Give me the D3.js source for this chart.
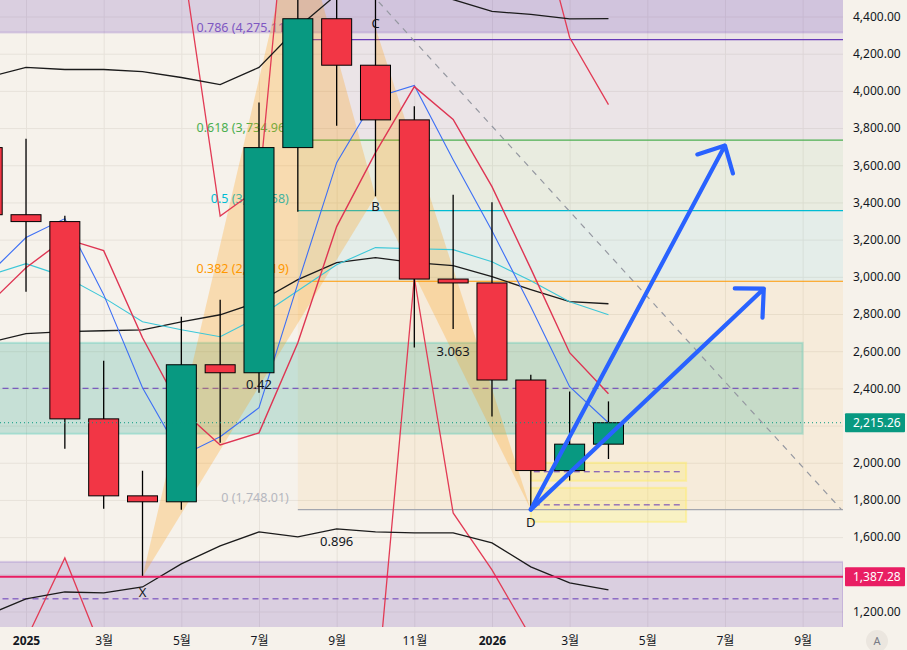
<!DOCTYPE html>
<html>
<head>
<meta charset="utf-8">
<script src="https://cdn.jsdelivr.net/npm/d3@7"></script>
<style>
  body { margin: 0; background: #f6f2eb; }
  svg text { font-family: "Noto Sans", "Noto Sans CJK KR", sans-serif; }
</style>
</head>
<body>
<script>
// 월봉 (2024-12 ~ 2026-04)
const months = ["2024-12", "2025-01", "2025-02", "2025-03", "2025-04", "2025-05", "2025-06", "2025-07",
  "2025-08", "2025-09", "2025-10", "2025-11", "2025-12", "2026-01", "2026-02", "2026-03", "2026-04"];
const opens = [3695, 3334, 3297, 2236, 1822, 1790, 2527, 2484, 3695, 4388, 4138, 3844, 2988, 2967, 2445, 1958, 2100];
const highs = [4107, 3743, 3329, 2549, 1957, 2785, 2877, 3937, 4956, 4770, 4755, 3917, 3442, 3401, 2473, 2383, 2330];
const lows = [3100, 2920, 2075, 1752, 1385, 1747, 2107, 2376, 3350, 3813, 3433, 2620, 2719, 2249, 1748.01, 1904, 2020];
const closes = [3334, 3297, 2236, 1822, 1790, 2527, 2484, 3695, 4388, 4138, 3844, 2988, 2967, 2445, 1958, 2100, 2215.26];

// 지표
const bbUpper = [4072, 4126, 4115, 4115, 4104, 4072, 4034, 4126, 4341, 4518, 4556, 4545, 4491, 4427, 4411, 4387, 4389];
const bbBasis = [2645, 2694, 2705, 2710, 2715, 2758, 2796, 2866, 2985, 3076, 3103, 3076, 3060, 3001, 2931, 2866, 2855];
const bbLower = [1181, 1268, 1305, 1300, 1332, 1456, 1553, 1628, 1601, 1644, 1628, 1623, 1623, 1569, 1440, 1354, 1316];
const maBlue = [3006, 3211, 3313, 2904, 2403, 2037, 2140, 2296, 2963, 3614, 3964, 4029, 3630, 3248, 2839, 2409, 2215];
const maCyan = [3005, 3071, 3001, 2888, 2758, 2715, 2678, 2785, 2925, 3065, 3157, 3151, 3146, 3081, 2979, 2866, 2796];
const maRed = [2845, 3049, 3205, 3141, 2672, 2285, 2096, 2161, 2645, 3270, 3668, 4023, 3846, 3485, 3044, 2592, 2371];
const bandLow = [600, 1047, 1488, 966, 700, null, null, null, null, null, 692, 2995, 1730, 1424, 1063, null, null];
const bandHigh = [null, null, null, null, null, 4755, 3327, 3477, 5686, null, null, null, null, null, 5083, 4287, 3926];

// 축
const xTickMonths = ["2025-01", "2025-03", "2025-05", "2025-07", "2025-09", "2025-11",
  "2026-01", "2026-03", "2026-05", "2026-07", "2026-09"];
const xTickLabels = ["2025", "3월", "5월", "7월", "9월", "11월", "2026", "3월", "5월", "7월", "9월"];
const yTicks = [1200, 1600, 1800, 2000, 2400, 2600, 2800, 3000, 3200, 3400, 3600, 3800, 4000, 4200, 4400];

// 피보나치
const fibStart = "2025-08";
const fibLevels = [1, 0.786, 0.618, 0.5, 0.382, 0];
const fibPrices = [4963.15, 4275.11, 3734.96, 3355.58, 2976.19, 1748.01];
const fibColors = ["#673ab7", "#673ab7", "#4caf50", "#00bcd4", "#ff9800", "#a3a6af"];
const fibTextColors = ["#7e57c2", "#7e57c2", "#4caf50", "#00bcd4", "#ff9800", "#b5b7bf"];

// XABCD
const harmNames = ["X", "A", "B", "C", "D"];
const harmMonths = ["2025-04", "2025-08", "2025-10", "2025-10", "2026-02"];
const harmPrices = [1385, 4956, 3433, 4340, 1748.01];
const harmRatios = ["0.42", "0.896", "3.063"];

// 박스 / 수평선
const purpleTop = [4314, 4800];
const purpleBottom = [1069, 1467];
const tealZone = [2156, 2645];
const yellowZones = [[1903, 2000], [1682, 1865]];
const supportLine = 1387.28;
const lastPrice = 2215.26;
const projEnd = ["2026-10", 1748.01];
const arrowMonths = ["2026-07", "2026-08"];
const arrowPrices = [3706, 2936];

let mi = s => {
  let [yy, mm] = s.split("-").map(Number);
  return (yy - 2025) * 12 + (mm - 1);
};

const W = 907, H = 650, plotW = 843, plotH = 627;

let svg = d3.select("body").append("svg")
  .attr("width", W).attr("height", H);

svg.append("rect").attr("width", W).attr("height", H).attr("fill", "#f6f2eb");

let x = d3.scaleLinear().domain([-0.67, 21.04]).range([0, plotW]),
  y = d3.scaleLinear().domain([1200, 4400]).range([611.5, 16.5]);

svg.append("defs").append("clipPath").attr("id", "clip")
  .append("rect").attr("width", plotW).attr("height", plotH);

let plot = svg.append("g").attr("clip-path", "url(#clip)");

// 격자
plot.append("g")
  .call(d3.axisRight(y).tickValues(d3.range(1000, 4800, 200)).tickSize(plotW).tickFormat(""))
  .call(g => g.select(".domain").remove())
  .selectAll("line").attr("stroke", "#e7e2da");
plot.append("g")
  .call(d3.axisBottom(x).tickValues(xTickMonths.map(mi)).tickSize(plotH).tickFormat(""))
  .call(g => g.select(".domain").remove())
  .selectAll("line").attr("stroke", "#e7e2da");

// 박스
let drawZone = (x0, x1, lo, hi, fill, stroke, mid) => {
  plot.append("rect")
    .attr("x", x(x0)).attr("width", x(x1) - x(x0))
    .attr("y", y(hi)).attr("height", y(lo) - y(hi))
    .attr("fill", fill).attr("stroke", stroke).attr("stroke-width", 2);
  if (mid) {
    plot.append("line")
      .attr("x1", x(x0) + 3).attr("x2", x(x1) - 3)
      .attr("y1", y((lo + hi) / 2)).attr("y2", y((lo + hi) / 2))
      .attr("stroke", "#673ab7").attr("stroke-width", 1).attr("stroke-dasharray", "6,4");
  }
};

drawZone(-3, 24, purpleTop[0], purpleTop[1], "rgba(103,58,183,0.19)", "rgba(126,87,194,0.22)", false);
drawZone(-3, 21.04, purpleBottom[0], purpleBottom[1], "rgba(103,58,183,0.19)", "rgba(126,87,194,0.22)", true);

// 피보 채우기
for (let i = 0; i < fibLevels.length - 1; i++) {
  plot.append("rect")
    .attr("x", x(mi(fibStart))).attr("width", plotW - x(mi(fibStart)))
    .attr("y", y(fibPrices[i])).attr("height", y(fibPrices[i + 1]) - y(fibPrices[i]))
    .attr("fill", fibColors[i]).attr("fill-opacity", 0.07);
}

drawZone(-3, 20, tealZone[0], tealZone[1], "rgba(8,153,129,0.2)", "rgba(60,200,180,0.3)", true);
yellowZones.forEach(z => drawZone(13, 17, z[0], z[1], "rgba(255,235,59,0.22)", "rgba(255,238,100,0.45)", true));

// 피보 선 (화면 밖 레벨은 라벨 생략)
fibLevels.forEach((lvl, i) => {
  plot.append("line")
    .attr("x1", x(mi(fibStart))).attr("x2", plotW)
    .attr("y1", y(fibPrices[i])).attr("y2", y(fibPrices[i]))
    .attr("stroke", fibColors[i]).attr("stroke-width", 1.2);
  if (y(fibPrices[i]) < 20) return;
  plot.append("text")
    .attr("x", x(mi(fibStart)) - 9).attr("y", y(fibPrices[i]) - 8)
    .attr("text-anchor", "end").attr("font-size", 12.5)
    .attr("fill", fibTextColors[i])
    .text(lvl + " (" + d3.format(",.2f")(fibPrices[i]) + ")");
});

// XABCD 삼각형
let hp = harmNames.map((n, i) => [x(mi(harmMonths[i])), y(harmPrices[i])]);
[[0, 1, 2], [2, 3, 4]].forEach(t => {
  plot.append("path")
    .attr("d", "M" + t.map(k => hp[k].join(",")).join("L") + "Z")
    .attr("fill", "rgba(255,152,0,0.25)");
});

// A → 투영 점선
plot.append("line")
  .attr("x1", hp[1][0]).attr("y1", hp[1][1])
  .attr("x2", x(mi(projEnd[0]))).attr("y2", y(projEnd[1]))
  .attr("stroke", "#9598a1").attr("stroke-width", 1.2).attr("stroke-dasharray", "6,6");

// 지표 선
let line = d3.line()
  .defined(d => d[1] !== null)
  .x(d => x(mi(d[0])))
  .y(d => y(d[1]));
let drawSeries = (vals, color, w) => {
  plot.append("path")
    .attr("d", line(months.map((m, i) => [m, vals[i]])))
    .attr("fill", "none").attr("stroke", color).attr("stroke-width", w);
};
drawSeries(bandLow, "#e23b55", 1.3);
drawSeries(bandHigh, "#e23b55", 1.3);
drawSeries(bbUpper, "#1b1b1b", 1.3);
drawSeries(bbBasis, "#1b1b1b", 1.3);
drawSeries(bbLower, "#1b1b1b", 1.3);
drawSeries(maCyan, "#3cc7d8", 1.1);
drawSeries(maBlue, "#3d6ff5", 1.1);
drawSeries(maRed, "#de3553", 1.4);

// 캔들
let candles = plot.append("g");
months.forEach((m, i) => {
  let cx = x(mi(m)), up = closes[i] >= opens[i];
  candles.append("line")
    .attr("x1", cx).attr("x2", cx)
    .attr("y1", y(highs[i])).attr("y2", y(lows[i]))
    .attr("stroke", "#000").attr("stroke-width", 1.3);
  let top = y(Math.max(opens[i], closes[i])), bot = y(Math.min(opens[i], closes[i]));
  candles.append("rect")
    .attr("x", cx - 15).attr("width", 30)
    .attr("y", top).attr("height", Math.max(bot - top, 1))
    .attr("fill", up ? "#089981" : "#f23645")
    .attr("stroke", "#000").attr("stroke-width", 1);
});

// 지지선 / 현재가
plot.append("line")
  .attr("x1", 0).attr("x2", plotW)
  .attr("y1", y(supportLine)).attr("y2", y(supportLine))
  .attr("stroke", "#e91e63").attr("stroke-width", 2);
plot.append("line")
  .attr("x1", 0).attr("x2", plotW)
  .attr("y1", y(lastPrice)).attr("y2", y(lastPrice))
  .attr("stroke", "#089981").attr("stroke-width", 1).attr("stroke-dasharray", "1,3");

// 라벨 (A 는 화면 밖)
let labelOffset = { X: 15, B: 10, C: -4, D: 13 };
harmNames.forEach((n, i) => {
  if (!(n in labelOffset)) return;
  plot.append("text")
    .attr("x", hp[i][0]).attr("y", hp[i][1] + labelOffset[n])
    .attr("dy", "0.35em").attr("text-anchor", "middle")
    .attr("font-size", 13).attr("fill", "#131722")
    .text(n);
});
[[0, 2], [0, 4], [2, 4]].forEach((p, i) => {
  plot.append("text")
    .attr("x", (hp[p[0]][0] + hp[p[1]][0]) / 2)
    .attr("y", (hp[p[0]][1] + hp[p[1]][1]) / 2 - 2)
    .attr("dy", "0.35em").attr("text-anchor", "middle")
    .attr("font-size", 13).attr("fill", "#131722")
    .text(harmRatios[i]);
});

// 화살표
arrowMonths.forEach((m, i) => {
  let x1 = hp[4][0], y1 = hp[4][1],
    x2 = x(mi(m)), y2 = y(arrowPrices[i]),
    ang = Math.atan2(y1 - y2, x1 - x2),
    wing = 29, spread = 44 * Math.PI / 180;
  let p = "M" + x1 + "," + y1 + "L" + x2 + "," + y2 +
    "M" + (x2 + wing * Math.cos(ang + spread)) + "," + (y2 + wing * Math.sin(ang + spread)) +
    "L" + x2 + "," + y2 +
    "L" + (x2 + wing * Math.cos(ang - spread)) + "," + (y2 + wing * Math.sin(ang - spread));
  plot.append("path").attr("d", p)
    .attr("fill", "none").attr("stroke", "#2962ff").attr("stroke-width", 4.2)
    .attr("stroke-linecap", "round").attr("stroke-linejoin", "round");
});

// Y 축
svg.append("g")
  .attr("transform", "translate(" + plotW + ",0)")
  .call(d3.axisRight(y).tickValues(yTicks).tickSize(0).tickPadding(10).tickFormat(d3.format(",.2f")))
  .call(g => g.select(".domain").remove())
  .selectAll("text").attr("font-size", 12).attr("fill", "#131722")
  .style("font-family", "'Noto Sans', sans-serif");

// X 축
svg.append("g")
  .attr("transform", "translate(0," + plotH + ")")
  .call(d3.axisBottom(x).tickValues(xTickMonths.map(mi)).tickSize(0).tickPadding(9)
    .tickFormat((d, i) => xTickLabels[i]))
  .call(g => g.select(".domain").remove())
  .selectAll("text").attr("font-size", 12).attr("fill", "#131722")
  .attr("font-weight", (d, i) => /^\d{4}$/.test(xTickLabels[i]) ? "bold" : "normal")
  .style("font-family", "'Noto Sans', 'Noto Sans CJK KR', sans-serif");

// 가격 라벨
[[lastPrice, "#089981"], [supportLine, "#e91e63"]].forEach(([v, c]) => {
  svg.append("rect")
    .attr("x", plotW + 2).attr("width", 60)
    .attr("y", y(v) - 9.5).attr("height", 19)
    .attr("rx", 1).attr("fill", c);
  svg.append("text")
    .attr("x", plotW + 10).attr("y", y(v)).attr("dy", "0.35em")
    .attr("font-size", 12).attr("fill", "#fff")
    .text(d3.format(",.2f")(v));
});

// 자동 스케일 버튼
svg.append("circle").attr("cx", 877).attr("cy", 641).attr("r", 11).attr("fill", "#ebe6df");
svg.append("text").attr("x", 877).attr("y", 641).attr("dy", "0.35em")
  .attr("text-anchor", "middle").attr("font-size", 11).attr("fill", "#787b86").text("A");
</script>
</body>
</html>
